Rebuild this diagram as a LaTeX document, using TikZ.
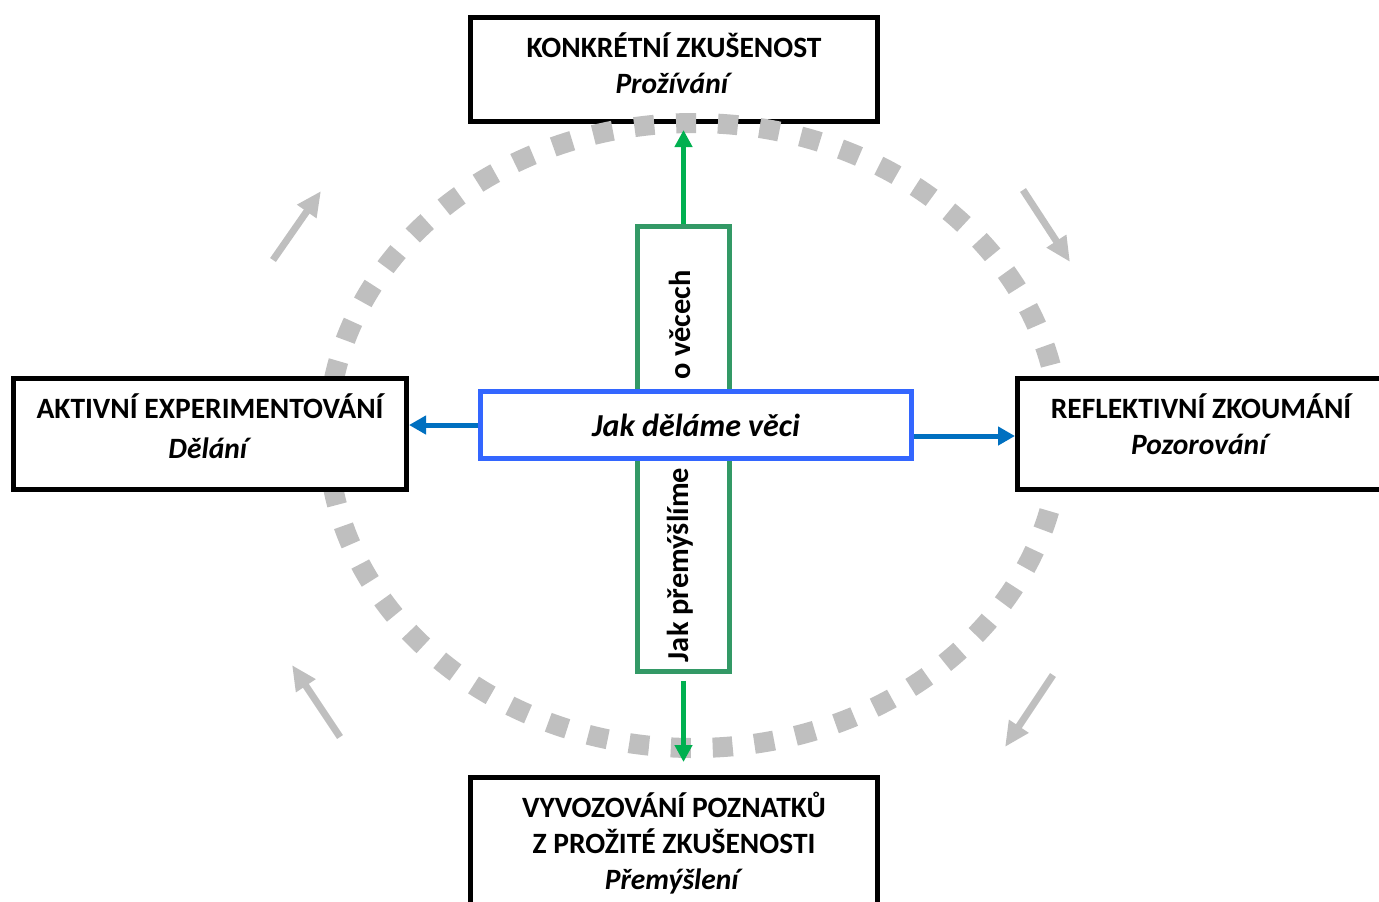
\documentclass[tikz,border=0pt]{standalone}
\usepackage{fontspec}
\setmainfont{Carlito}
\usetikzlibrary{arrows.meta}
\definecolor{cykl}{HTML}{BFBFBF}
\definecolor{ramzel}{HTML}{339966}
\definecolor{sipzel}{HTML}{00B050}
\definecolor{rammodr}{HTML}{3366FF}
\definecolor{sipmodr}{HTML}{0070C0}
\tikzset{
  faze/.style={draw, line width=2.5pt, fill=white, inner sep=0pt},
  popis/.style={align=center, font=\fontsize{14.75}{18}\selectfont\bfseries, inner sep=0pt},
  kolo/.style={line width=3.5pt, cykl, -{Triangle[length=12.5pt,width=11pt]}},
  zelsipka/.style={line width=2.5pt, sipzel, -{Triangle[length=8.5pt,width=8.5pt]}},
  modrsipka/.style={line width=2.5pt, sipmodr, -{Triangle[length=8.5pt,width=9pt]}},
}
\begin{document}
\begin{tikzpicture}[x=0.5pt, y=-0.5pt]
  \useasboundingbox (0,0) rectangle (1379,901);
  \clip (0,0) rectangle (1379,901);

  % horni faze
  \node[faze, minimum width=203.5pt, minimum height=52pt] (konkretni) at (674,69.5) {};
  \node[popis] (konkretniT) at (674,63) {KONKRÉTNÍ ZKUŠENOST\\\textit{Prožívání}};

  % cyklus
  \draw[cykl, line width=10pt, dash pattern=on 10pt off 10.93pt, dash phase=6.24pt]
    (694,435.5) circle [x radius=183pt, y radius=156.25pt];

  % ostatni faze
  \node[faze, minimum width=196.5pt, minimum height=55.5pt] (aktivni) at (210,434) {};
  \node[popis] (aktivniT) at (210,426) {AKTIVNÍ EXPERIMENTOVÁNÍ\\[2pt]\textit{Dělání}};
  \node[faze, minimum width=191.25pt, minimum height=55.5pt] (reflektivni) at (1208.75,434) {};
  \node[popis] (reflektivniT) at (1201,424) {REFLEKTIVNÍ ZKOUMÁNÍ\\\textit{Pozorování}};
  \node[faze, minimum width=203.5pt, minimum height=76.25pt] (vyvozovani) at (674,853.75) {};
  \node[popis] (vyvozovaniT) at (674,843) {VYVOZOVÁNÍ POZNATKŮ\\Z PROŽITÉ ZKUŠENOSTI\\\textit{Přemýšlení}};

  % sipky cyklu
  \coordinate (k1) at (273,260);  \coordinate (k1h) at (321,191);
  \coordinate (k2) at (1023,190); \coordinate (k2h) at (1070,262);
  \coordinate (k3) at (1053,675); \coordinate (k3h) at (1005,747);
  \coordinate (k4) at (340,737);  \coordinate (k4h) at (292,665);
  \draw[kolo] (k1) -- (k1h);
  \draw[kolo] (k2) -- (k2h);
  \draw[kolo] (k3) -- (k3h);
  \draw[kolo] (k4) -- (k4h);

  % kriz uprostred
  \node[draw=ramzel, line width=2.25pt, minimum width=46pt, minimum height=222.5pt, inner sep=0pt] (jak) at (683.5,449) {};
  \node[popis, font=\fontsize{15.2}{18}\selectfont\bfseries, rotate=90] (vecech) at (680,325) {o věcech};
  \node[popis, font=\fontsize{15.2}{18}\selectfont\bfseries, rotate=90] (premyslime) at (680,565) {Jak přemýšlíme};
  \node[draw=rammodr, line width=2.25pt, fill=white, minimum width=215.5pt, minimum height=33.5pt,
    popis, font=\fontsize{16}{18}\selectfont\bfseries] (delame) at (696,425) {\textit{Jak děláme věci}};

  \draw[zelsipka, shorten >=3pt] (jak.north) -- (jak.north |- konkretni.south);
  \draw[zelsipka, shorten <=3.5pt, shorten >=6.5pt] (jak.south) -- (jak.south |- vyvozovani.north);
  \draw[modrsipka] (delame.west) -- (delame.west -| aktivni.east);
  \draw[modrsipka] ([yshift=-5.5pt]delame.east) -- ([yshift=-5.5pt]delame.east -| reflektivni.west);
\end{tikzpicture}
\end{document}
